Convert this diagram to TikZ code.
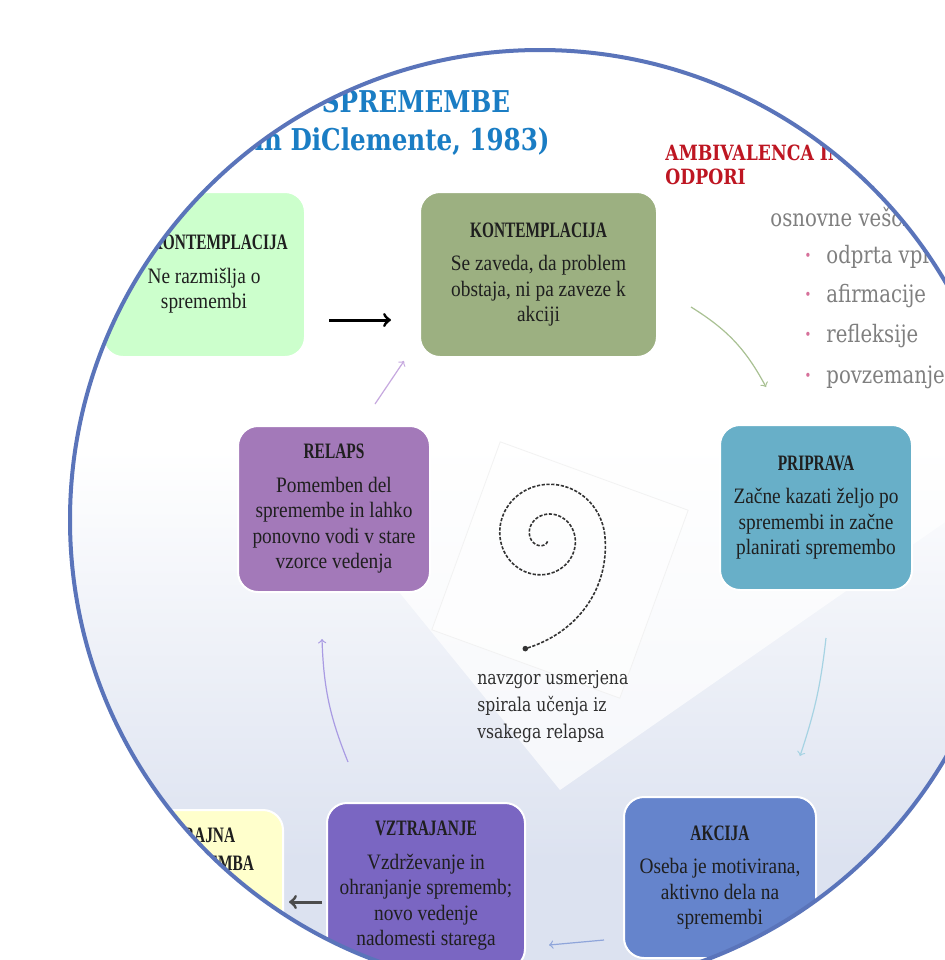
\documentclass[tikz,border=0pt]{standalone}
\usepackage{fontspec}
\setmainfont{Liberation Serif}
\newfontfamily\stagefont[FakeStretch=0.88]{Liberation Serif}
\newfontfamily\stageheadfont[FakeStretch=0.7]{Liberation Serif}
\newfontfamily\slabfont[FakeStretch=0.82]{DejaVu Serif}
\usetikzlibrary{shapes,arrows,positioning}

\definecolor{ringblue}{HTML}{5A74BA}
\definecolor{precol}{HTML}{CCFFCC}
\definecolor{kontcol}{HTML}{9CB081}
\definecolor{pripcol}{HTML}{68AFC8}
\definecolor{akcol}{HTML}{6584CC}
\definecolor{vzcol}{HTML}{7A66C2}
\definecolor{relcol}{HTML}{A379B9}
\definecolor{trajcol}{HTML}{FFFFCC}
\definecolor{titleblue}{HTML}{1A7DC4}
\definecolor{ambred}{HTML}{BE1622}
\definecolor{bulletpink}{HTML}{D6709A}
\definecolor{listgray}{HTML}{7F7F7F}
\definecolor{bgblue}{HTML}{DCE2F0}

\newcommand{\stagehead}[1]{{\stageheadfont\bfseries #1}}

\begin{document}
\begin{tikzpicture}[
    x=0.5pt, y=-0.5pt,
    node distance=56.5pt,
    stage/.style={rectangle, rounded corners=10pt, draw=white, line width=1pt, align=center, inner sep=0pt, text=black!88, font=\stagefont\fontsize{11}{12.75}\selectfont},
    slab/.style={inner sep=0pt, font=\slabfont\fontsize{12}{14}\selectfont, text=listgray},
    arrow/.style={->, >=to, line width=0.6pt},
    bigarrow/.style={->, >=to, line width=1.5pt}
]
\useasboundingbox (0,0) rectangle (944,960);

% Page and slide background
\fill[white] (0,0) rectangle (944,960);
\begin{scope}
\clip (540,520) circle [radius=470];
\shade[top color=white, bottom color=bgblue] (0,450) rectangle (1020,860);
\fill[bgblue] (0,860) rectangle (1020,1000);
\fill[white, opacity=0.7] (330,507) -- (560,790) -- (1020,470) -- (700,300) -- cycle;
\filldraw[white, fill opacity=0.6, draw=gray!10, rotate around={-20:(560,570)}] (460,470) rectangle (660,670);

% Title
\node[inner sep=0pt, font=\slabfont\bfseries\fontsize{15}{18}\selectfont, text=titleblue] (title) at (416,102) {SPREMEMBE};
\node[inner sep=0pt, font=\slabfont\bfseries\fontsize{15}{18}\selectfont, text=titleblue, anchor=east] (authors) at (550,142) {in DiClemente, 1983)};

% Ambivalence and skills
\node[inner sep=0pt, align=left, anchor=north west, font=\slabfont\bfseries\fontsize{10.5}{12}\selectfont, text=ambred] (ambiv) at (665,145) {AMBIVALENCA IN\\ODPORI};
\node[slab, anchor=west] (skills) at (770,217) {osnovne veščine};
\foreach \y/\t in {257/odprta vprašanja, 296/afirmacije, 336/refleksije, 377/povzemanje} {
    \node[inner sep=0pt, text=bulletpink, font=\slabfont\fontsize{7}{8}\selectfont] (dot\y) at (808,\y) {•};
    \node[slab, anchor=base west] (item\y) at (826,\y+6) {\t};
}

% Stages
\node[stage, fill=kontcol, minimum width=118.5pt, minimum height=82.5pt] (kont) at (538.5,274.5) {
    \stagehead{KONTEMPLACIJA}\\[4pt]
    Se zaveda, da problem\\
    obstaja, ni pa zaveze k\\
    akciji
};
\node[stage, fill=precol, minimum width=101pt, minimum height=82.5pt, left=of kont] (prekont) {
    \stagehead{PREKONTEMPLACIJA}\\[4pt]
    Ne razmišlja o\\
    spremembi
};
\node[stage, fill=pripcol, minimum width=96pt, minimum height=82.5pt] (pripr) at (816,507.5) {
    \stagehead{PRIPRAVA}\\[4pt]
    Začne kazati željo po\\
    spremembi in začne\\
    planirati spremembo
};
\node[stage, fill=akcol, minimum width=96pt, minimum height=80.5pt] (akcija) at (720,877.5) {
    \stagehead{AKCIJA}\\[4pt]
    Oseba je motivirana,\\
    aktivno dela na\\
    spremembi
};
\node[stage, fill=vzcol, minimum width=99pt, minimum height=83pt] (vztraj) at (426,886) {
    \stagehead{VZTRAJANJE}\\[4pt]
    Vzdrževanje in\\
    ohranjanje sprememb;\\
    novo vedenje\\
    nadomesti starega
};
\node[stage, fill=relcol, minimum width=96pt, minimum height=83pt] (relaps) at (334,509) {
    \stagehead{RELAPS}\\[4pt]
    Pomemben del\\
    spremembe in lahko\\
    ponovno vodi v stare\\
    vzorce vedenja
};
\node[stage, fill=trajcol, minimum width=79pt, minimum height=82.5pt] (trajna) at (204,892.5) {};
\node[inner sep=0pt, align=center, text=black!88, font=\stageheadfont\bfseries\fontsize{11}{14}\selectfont] (trajnatxt) at (204,849) {TRAJNA\\SPREMEMBA};

% Spiral
\draw[black!80, line width=0.8pt, dash pattern=on 1.6pt off 0.8pt] plot[domain=60:820, samples=240, smooth, variable=\t] ({545+(\t/12+0.0045*max(0,\t-720)^2)*cos(\t)}, {537+(\t/12+0.0045*max(0,\t-720)^2)*sin(\t)}) coordinate (spiralend);
\fill[black!80] (spiralend) circle [radius=1.4pt];
\node[inner sep=0pt, align=left, anchor=north west, text=black!82, font=\slabfont\fontsize{9.5}{13.5}\selectfont] (spiraltxt) at (477,670) {navzgor usmerjena\\spirala učenja iz\\vsakega relapsa};

% Arrows
\draw[bigarrow, black, shorten <=11.5pt, shorten >=14pt] ([yshift=-22.75pt]prekont.east) -- ([yshift=-22.75pt]kont.west);
\draw[arrow, color={rgb,255:red,169;green,193;blue,147}] ([xshift=16.5pt,yshift=-16.25pt]kont.east) to[bend left=15] ([xshift=23.5pt,yshift=18.5pt]pripr.north west);
\draw[arrow, color={rgb,255:red,166;green,211;blue,227}] ([xshift=5pt,yshift=-23.5pt]pripr.south) to[bend left=6] ([xshift=40pt,yshift=20pt]akcija.north);
\draw[arrow, color={rgb,255:red,143;green,165;blue,218}] ([xshift=-9.5pt,yshift=-31.25pt]akcija.west) -- ([xshift=11.5pt,yshift=-29.5pt]vztraj.east);
\draw[bigarrow, black!70] ([xshift=-2pt,yshift=-8pt]vztraj.west) -- ([xshift=2.5pt,yshift=-4.75pt]trajna.east);
\draw[arrow, color={rgb,255:red,169;green,155;blue,227}] ([xshift=-39pt,yshift=20pt]vztraj.north) to[bend left=10] ([xshift=-6pt,yshift=-23pt]relaps.south);
\draw[arrow, color={rgb,255:red,198;green,168;blue,223}] ([xshift=20.5pt,yshift=10.5pt]relaps.north) -- ([xshift=-7.5pt,yshift=-1.5pt]kont.south west);
\end{scope}

% Ring
\draw[ringblue, line width=2pt] (540,520) circle [radius=470];

\end{tikzpicture}
\end{document}
